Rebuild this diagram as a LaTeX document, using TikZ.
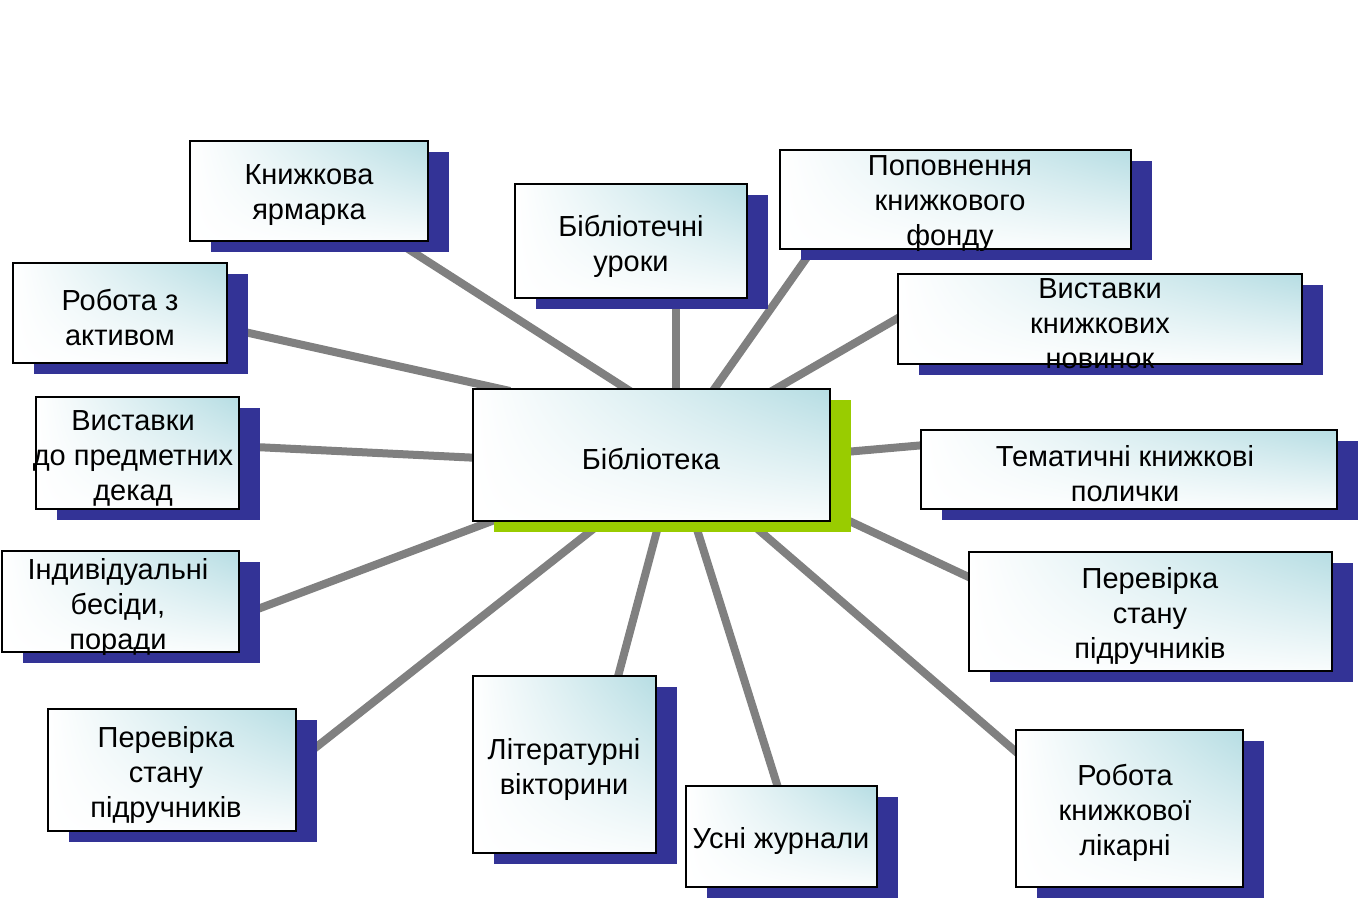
\documentclass[tikz,border=0pt]{standalone}
\usepackage{fontspec}
\setmainfont{Liberation Sans}
\usetikzlibrary{shadows,shadings}
\definecolor{shblue}{RGB}{51,51,150}
\definecolor{shgreen}{RGB}{153,204,0}
\definecolor{conngray}{RGB}{128,128,128}
\definecolor{boxblue}{RGB}{182,221,227}
\tikzset{
  conn/.style={draw=conngray, line width=8pt},
  box/.style={draw=black, line width=2pt, inner sep=0pt, outer sep=0pt,
    upper right=boxblue, upper left=white, lower left=white, lower right=white!92!boxblue,
    drop shadow={shadow xshift=21pt, shadow yshift=-10.5pt, fill=shblue, opacity=1}},
  mainbox/.style={draw=black, line width=2pt, inner sep=0pt, outer sep=0pt,
    upper right=boxblue, upper left=white, lower left=white, lower right=white!92!boxblue,
    drop shadow={shadow xshift=21pt, shadow yshift=-10.5pt, fill=shgreen, opacity=1}},
  txt/.style={align=center, inner sep=0pt, font=\fontsize{29}{35}\selectfont, text=black, yshift=-3pt}
}
\begin{document}
\begin{tikzpicture}[x=1pt,y=-1pt]
\useasboundingbox[fill=white] (0,0) rectangle (1359,903);
% connector endpoints
\coordinate (m1) at (633,393); \coordinate (o1) at (402,245);
\coordinate (m2) at (676,395); \coordinate (o2) at (676,300);
\coordinate (m3) at (710,395); \coordinate (o3) at (810,253);
\coordinate (m4) at (765,395); \coordinate (o4) at (905,314);
\coordinate (m5) at (510,391); \coordinate (o5) at (240,331);
\coordinate (m6) at (480,458); \coordinate (o6) at (255,447);
\coordinate (m7) at (845,452); \coordinate (o7) at (925,445);
\coordinate (m8) at (500,518); \coordinate (o8) at (255,610);
\coordinate (m9) at (845,519); \coordinate (o9) at (975,580);
\coordinate (m10) at (597,526); \coordinate (o10) at (310,752);
\coordinate (m11) at (659,523); \coordinate (o11) at (616,684);
\coordinate (m12) at (695,523); \coordinate (o12) at (780,794);
\coordinate (m13) at (753,525); \coordinate (o13) at (1022,757);
\foreach \i in {1,...,13} { \draw[conn] (m\i) -- (o\i); }
% boxes
\node[box, minimum width=238pt, minimum height=100pt] (b1) at (309,191) {};
\node[box, minimum width=232pt, minimum height=114pt] (b2) at (631,241) {};
\node[box, minimum width=351pt, minimum height=99pt] (b3) at (955.5,199.5) {};
\node[box, minimum width=404pt, minimum height=90pt] (b4) at (1100,319) {};
\node[box, minimum width=214pt, minimum height=100pt] (b5) at (120,313) {};
\node[box, minimum width=203pt, minimum height=112pt] (b6) at (137.5,453) {};
\node[mainbox, minimum width=357pt, minimum height=132pt] (b7) at (651.5,455) {};
\node[box, minimum width=416pt, minimum height=79pt] (b8) at (1129,469.5) {};
\node[box, minimum width=237pt, minimum height=101pt] (b9) at (120.5,601.5) {};
\node[box, minimum width=363pt, minimum height=119pt] (b10) at (1150.5,611.5) {};
\node[box, minimum width=248pt, minimum height=122pt] (b11) at (172,770) {};
\node[box, minimum width=183pt, minimum height=177pt] (b12) at (564.5,764.5) {};
\node[box, minimum width=191pt, minimum height=101pt] (b13) at (781.5,836.5) {};
\node[box, minimum width=227pt, minimum height=157pt] (b14) at (1129.5,808.5) {};
% texts
\node[txt] (t1) at (309,192) {Книжкова\\ярмарка};
\node[txt] (t2) at (631,243) {Бібліотечні\\уроки};
\node[txt] (t3) at (950,201) {Поповнення\\книжкового\\фонду};
\node[txt] (t4) at (1100,321) {Виставки\\книжкових\\новинок};
\node[txt] (t5) at (120,314) {Робота з\\активом};
\node[txt] (t6) at (133,455) {Виставки\\до предметних\\декад};
\node[txt] (t7) at (651,456) {Бібліотека};
\node[txt] (t8) at (1125,471) {Тематичні книжкові\\полички};
\node[txt] (t9) at (118,604) {Індивідуальні\\бесіди,\\поради};
\node[txt] (t10) at (1150,613) {Перевірка\\стану\\підручників};
\node[txt] (t11) at (166,772) {Перевірка\\стану\\підручників};
\node[txt] (t12) at (564,766) {Літературні\\вікторини};
\node[txt] (t13) at (781,838) {Усні журнали};
\node[txt] (t14) at (1125,810) {Робота\\книжкової\\лікарні};
\end{tikzpicture}
\end{document}
